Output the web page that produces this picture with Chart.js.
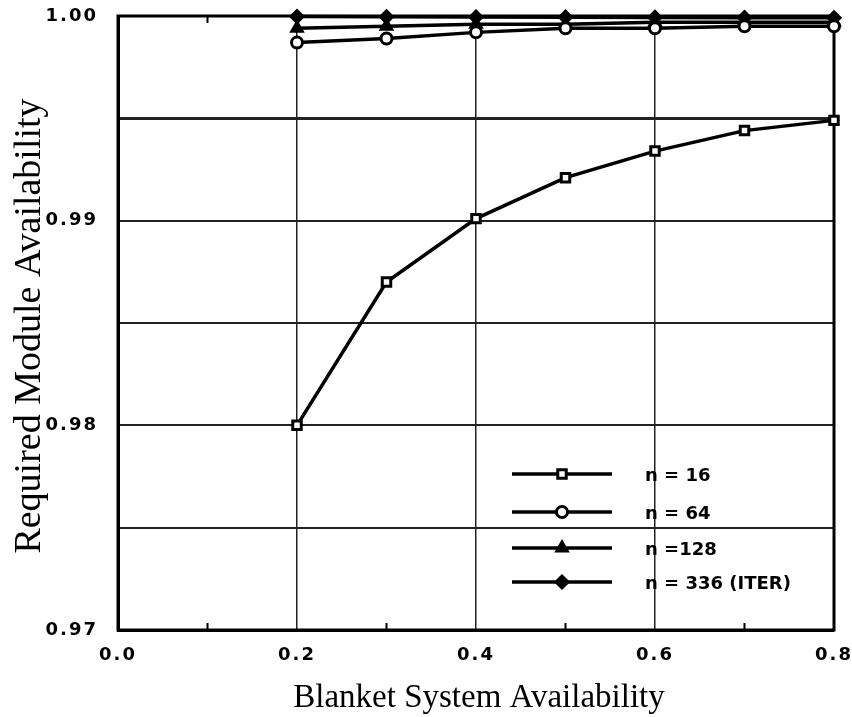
<!DOCTYPE html>
<html><head><meta charset="utf-8">
<script src="https://cdn.jsdelivr.net/npm/chart.js@4.4.0/dist/chart.umd.min.js"></script>
<style>html,body{margin:0;padding:0;background:#fff}#wrap{width:852px;height:717px}</style>
</head><body><div id="wrap"><canvas id="c" width="852" height="717"></canvas></div>
<script>
// ---- data ----
const blanketAvailability = [0.2, 0.3, 0.4, 0.5, 0.6, 0.7, 0.8];
const seriesLabels = ['n = 16', 'n = 64', 'n =128', 'n = 336 (ITER)'];
const n16  = [0.9800, 0.9870, 0.9901, 0.9921, 0.9934, 0.9944, 0.9949];
const n64  = [0.9987, 0.9989, 0.9992, 0.9994, 0.9994, 0.9995, 0.9995];
const n128 = [0.9994, 0.9995, 0.9996, 0.9996, 0.9997, 0.9997, 0.9997];
const n336 = [0.99997, 0.99996, 0.99995, 0.99994, 0.99993, 0.99992, 0.99991];
const xTickLabels = ['0.0', '0.2', '0.4', '0.6', '0.8'];
const xMinorTicks = ['0.1', '0.3', '0.5', '0.7'];
const yTickValues = ['0.970', '0.975', '0.980', '0.985', '0.990', '0.995', '1.000'];
const yTickLabels = ['0.97', '', '0.98', '', '0.99', '', '1.00'];
const referenceLine = 0.995;
const xTitle = 'Blanket System Availability';
const yTitle = 'Required Module Availability';

const toPts = arr => arr.map((v, i) => ({ x: blanketAvailability[i], y: v }));

const styles = [
  { pointStyle: 'rect', radius: 6, bg: '#fff' },
  { pointStyle: 'circle', radius: 5.5, bg: '#fff' },
  { pointStyle: 'triangle', radius: 6, bg: '#000' },
  { pointStyle: 'rectRot', radius: 6, bg: '#000' }
];
const seriesData = [n16, n64, n128, n336];

const datasets = seriesData.map((d, i) => ({
  label: seriesLabels[i],
  data: toPts(d),
  borderColor: '#000',
  borderWidth: 3.5,
  pointStyle: styles[i].pointStyle,
  pointRadius: styles[i].radius,
  pointBackgroundColor: styles[i].bg,
  pointBorderColor: '#000',
  pointBorderWidth: 3,
  tension: 0,
  clip: false
}));

const decor = {
  id: 'decor',
  beforeDraw(chart) {
    chart.ctx.letterSpacing = '2px';
  },
  beforeDatasetsDraw(chart) {
    const { ctx, chartArea: a, scales } = chart;
    ctx.save();
    ctx.strokeStyle = '#000';
    ctx.lineWidth = 3;
    ctx.strokeRect(a.left, a.top, a.right - a.left, a.bottom - a.top);
    ctx.lineWidth = 2;
    xMinorTicks.forEach(t => {
      const px = scales.x.getPixelForValue(parseFloat(t));
      ctx.beginPath();
      ctx.moveTo(px, a.bottom); ctx.lineTo(px, a.bottom - 7);
      ctx.moveTo(px, a.top); ctx.lineTo(px, a.top + 7);
      ctx.stroke();
    });
    ctx.restore();
  },
  afterDatasetsDraw(chart) {
    const { ctx } = chart;
    ctx.save();
    ctx.letterSpacing = '0px';
    // legend
    const rows = [474, 512, 548, 582];
    chart.data.datasets.forEach((ds, i) => {
      const y = rows[i];
      ctx.strokeStyle = '#000';
      ctx.lineWidth = 3.5;
      ctx.beginPath(); ctx.moveTo(512, y); ctx.lineTo(612, y); ctx.stroke();
      ctx.fillStyle = ds.pointBackgroundColor;
      ctx.strokeStyle = '#000';
      ctx.lineWidth = ds.pointBorderWidth;
      Chart.helpers.drawPoint(ctx, { pointStyle: ds.pointStyle, radius: ds.pointRadius, rotation: 0, borderWidth: ds.pointBorderWidth }, 562, y);
      ctx.fillStyle = '#000';
      ctx.font = 'bold 18px "DejaVu Sans"';
      ctx.textBaseline = 'middle';
      ctx.textAlign = 'left';
      ctx.fillText(ds.label, 645, y + 2);
    });
    // axis titles
    ctx.fillStyle = '#000';
    ctx.textBaseline = 'alphabetic';
    ctx.textAlign = 'center';
    ctx.font = '33px "Liberation Serif"';
    ctx.fillText(xTitle, 479, 707);
    ctx.translate(40, 326);
    ctx.rotate(-Math.PI / 2);
    ctx.font = '38px "Liberation Serif"';
    ctx.fillText(yTitle, 0, 0);
    ctx.restore();
  }
};

new Chart(document.getElementById('c'), {
  type: 'line',
  data: { datasets },
  plugins: [decor],
  options: {
    responsive: false,
    animation: false,
    devicePixelRatio: 1,
    layout: { padding: { top: 16, right: 18, left: 0, bottom: 0 } },
    plugins: { legend: { display: false }, tooltip: { enabled: false } },
    scales: {
      x: {
        type: 'linear', min: 0, max: 0.8,
        afterBuildTicks: s => { s.ticks = xTickLabels.map(t => ({ value: parseFloat(t) })); },
        afterFit: s => { s.height = 87; s.paddingLeft = 0; s.paddingRight = 0; s.paddingTop = 0; s.paddingBottom = 0; },
        ticks: {
          autoSkip: false, maxRotation: 0,
          callback: (v, i) => xTickLabels[i],
          font: { family: 'DejaVu Sans', weight: 'bold', size: 18 },
          color: '#000', padding: 15
        },
        grid: {
          color: '#222', drawTicks: false,
          lineWidth: c => (c.index === 0 || c.index === xTickLabels.length - 1) ? 0 : 1.5
        },
        border: { display: true, color: '#000', width: 3 }
      },
      y: {
        type: 'linear', min: 0.97, max: 1.0,
        afterBuildTicks: s => { s.ticks = yTickValues.map(t => ({ value: parseFloat(t) })); },
        afterFit: s => { s.width = 118; s.paddingLeft = 0; s.paddingRight = 0; s.paddingTop = 0; s.paddingBottom = 0; },
        ticks: {
          autoSkip: false,
          callback: (v, i) => yTickLabels[i],
          font: { family: 'DejaVu Sans', weight: 'bold', size: 18 },
          color: '#000', padding: 20
        },
        grid: {
          color: '#222', drawTicks: false,
          lineWidth: c => {
            if (c.index === 0 || c.index === yTickValues.length - 1) return 0;
            return Math.abs(parseFloat(yTickValues[c.index]) - referenceLine) < 1e-9 ? 3 : 2;
          }
        },
        border: { display: true, color: '#000', width: 3 }
      }
    }
  }
});
</script>
</body></html>
